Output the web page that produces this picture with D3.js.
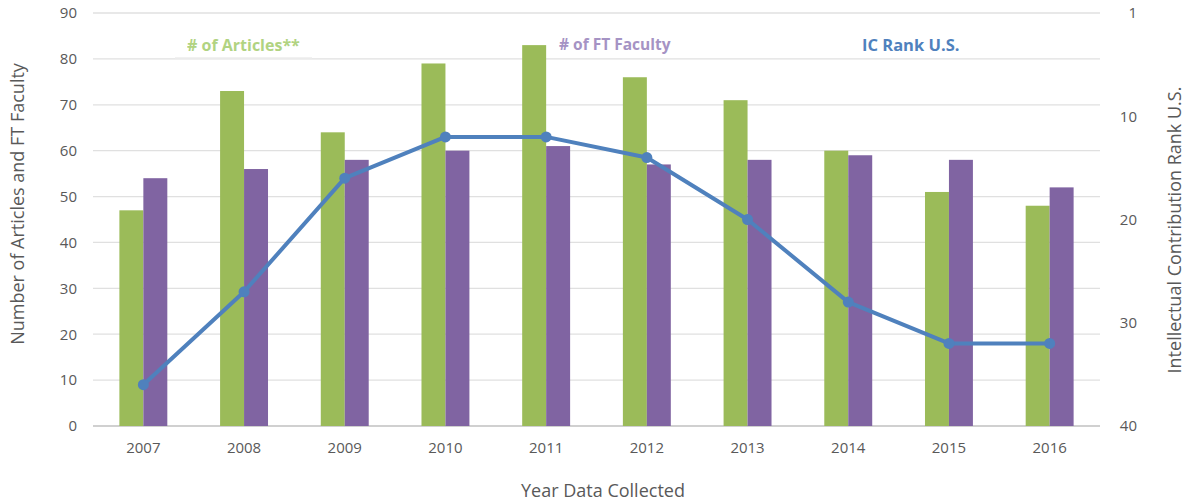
<!DOCTYPE html>
<html>
<head>
<meta charset="utf-8">
<script src="https://cdn.jsdelivr.net/npm/d3@7"></script>
<style>
  body { margin: 0; background: #fff; }
  svg text { font-family: "Open Sans", "Noto Sans", sans-serif; }
</style>
</head>
<body>
<div id="chart"></div>
<script>
// chart data
const years = ["2007", "2008", "2009", "2010", "2011", "2012", "2013", "2014", "2015", "2016"];
const articles = [47, 73, 64, 79, 83, 76, 71, 60, 51, 48];
const faculty = [54, 56, 58, 60, 61, 57, 58, 59, 58, 52];
const icRank = [36, 27, 16, 12, 12, 14, 20, 28, 32, 32];
const leftTicks = [0, 10, 20, 30, 40, 50, 60, 70, 80, 90];
const rightTicks = [0, 10, 20, 30, 40];
const rightTickLabels = ["1", "10", "20", "30", "40"];

const width = 1190;
const height = 504;
const margin = { top: 13, right: 90, bottom: 78, left: 93 };

const svg = d3
  .select("#chart")
  .append("svg")
  .attr("width", width)
  .attr("height", height);

const x = d3
  .scaleBand()
  .domain(years)
  .range([margin.left, width - margin.right]);

const sub = d3
  .scaleBand()
  .domain(["articles", "faculty"])
  .range([x.bandwidth() * 0.262, x.bandwidth() * 0.738]);

const y = d3
  .scaleLinear()
  .domain([0, 90])
  .range([height - margin.bottom, margin.top]);

const yRank = d3
  .scaleLinear()
  .domain([0, 40])
  .range([margin.top, height - margin.bottom]);

// gridlines
svg
  .append("g")
  .selectAll("line")
  .data(leftTicks)
  .enter()
  .append("line")
  .attr("x1", margin.left)
  .attr("x2", width - margin.right)
  .attr("y1", d => y(d))
  .attr("y2", d => y(d))
  .attr("stroke", d => (d === 0 ? "#d0d0d0" : "#e0e0e0"))
  .attr("stroke-width", d => (d === 0 ? 2 : 1.3));

// left axis
const leftAxis = svg
  .append("g")
  .attr("transform", `translate(${margin.left},0)`)
  .call(d3.axisLeft(y).tickValues(leftTicks).tickSize(0).tickPadding(16));
leftAxis.select(".domain").remove();
leftAxis
  .selectAll("text")
  .attr("font-size", 15)
  .attr("fill", "#595959");

// right axis
const rightAxis = svg
  .append("g")
  .attr("transform", `translate(${width - margin.right},0)`)
  .call(
    d3
      .axisRight(yRank)
      .tickValues(rightTicks)
      .tickFormat((d, i) => rightTickLabels[i])
      .tickSize(0)
      .tickPadding(37)
  );
rightAxis.select(".domain").remove();
rightAxis
  .selectAll("text")
  .attr("font-size", 15)
  .attr("fill", "#595959")
  .attr("text-anchor", "end");

// bottom axis
const bottomAxis = svg
  .append("g")
  .attr("transform", `translate(0,${height - margin.bottom})`)
  .call(d3.axisBottom(x).tickSize(0).tickPadding(16));
bottomAxis.select(".domain").remove();
bottomAxis
  .selectAll("text")
  .attr("font-size", 15)
  .attr("fill", "#595959");

// bars
const groups = svg
  .append("g")
  .selectAll("g")
  .data(years)
  .enter()
  .append("g")
  .attr("transform", d => `translate(${x(d)},0)`);

groups
  .append("rect")
  .attr("x", sub("articles"))
  .attr("width", sub.bandwidth())
  .attr("y", (d, i) => y(articles[i]))
  .attr("height", (d, i) => y(0) - y(articles[i]))
  .attr("fill", "#9bbb59");

groups
  .append("rect")
  .attr("x", sub("faculty"))
  .attr("width", sub.bandwidth())
  .attr("y", (d, i) => y(faculty[i]))
  .attr("height", (d, i) => y(0) - y(faculty[i]))
  .attr("fill", "#8064a2");

// rank line
const cx = d => x(d) + x.bandwidth() / 2;

const line = d3
  .line()
  .x((d, i) => cx(years[i]))
  .y(d => yRank(d));

svg
  .append("path")
  .datum(icRank)
  .attr("d", line)
  .attr("fill", "none")
  .attr("stroke", "#4f81bd")
  .attr("stroke-width", 4)
  .attr("stroke-linejoin", "round");

svg
  .append("g")
  .selectAll("circle")
  .data(icRank)
  .enter()
  .append("circle")
  .attr("cx", (d, i) => cx(years[i]))
  .attr("cy", d => yRank(d))
  .attr("r", 5.5)
  .attr("fill", "#4f81bd");

// legend labels (placed as text in the plot)
svg
  .append("line")
  .attr("x1", 175)
  .attr("x2", 312)
  .attr("y1", 58)
  .attr("y2", 58)
  .attr("stroke", "#ececec")
  .attr("stroke-width", 1.5);

svg
  .append("text")
  .attr("x", 187)
  .attr("y", 51)
  .attr("font-size", 16)
  .attr("font-weight", "bold")
  .attr("fill", "#a9cf74")
  .attr("opacity", 0.9)
  .text("# of Articles**");

svg
  .append("text")
  .attr("x", 559)
  .attr("y", 50)
  .attr("font-size", 15.5)
  .attr("font-weight", "bold")
  .attr("fill", "#a593c4")
  .text("# of FT Faculty");

svg
  .append("text")
  .attr("x", 862)
  .attr("y", 51)
  .attr("font-size", 16.5)
  .attr("font-weight", "bold")
  .attr("fill", "#4f81bd")
  .text("IC Rank U.S.");

// axis titles
svg
  .append("text")
  .attr("transform", "translate(24,204) rotate(-90)")
  .attr("text-anchor", "middle")
  .attr("font-size", 18)
  .attr("fill", "#595959")
  .text("Number of Articles and FT Faculty");

svg
  .append("text")
  .attr("transform", "translate(1181,230) rotate(-90)")
  .attr("text-anchor", "middle")
  .attr("font-size", 18)
  .attr("fill", "#595959")
  .text("Intellectual Contribution Rank U.S.");

svg
  .append("text")
  .attr("x", 603)
  .attr("y", 497)
  .attr("text-anchor", "middle")
  .attr("font-size", 18)
  .attr("fill", "#595959")
  .text("Year Data Collected");
</script>
</body>
</html>
